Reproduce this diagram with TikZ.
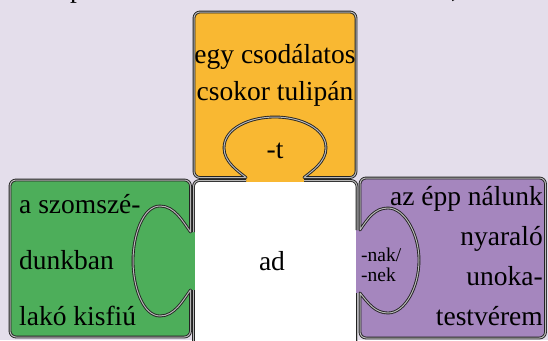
\documentclass[tikz,border=0pt]{standalone}
\usepackage{fontspec}
\setmainfont{Liberation Serif}
\definecolor{bg}{RGB}{228,222,235}
\definecolor{orng}{RGB}{249,184,50}
\definecolor{grn}{RGB}{77,174,90}
\definecolor{prpl}{RGB}{165,134,190}
\definecolor{edge}{RGB}{35,35,35}
\tikzset{
  outl/.style={draw=edge, line width=0.9pt, double=black!28, double distance=1pt, line join=round},
  txt/.style={font=\fontsize{27.5}{30}\selectfont, inner sep=0pt},
  smalltxt/.style={font=\fontsize{19.5}{21}\selectfont, inner sep=0pt}
}
\begin{document}
\begin{tikzpicture}[x=1pt,y=-1pt]
\useasboundingbox (0,0) rectangle (548,340);
\fill[bg] (0,0) rectangle (548,340);
% cut-off line of text above
\node[txt, anchor=base west] (cutp) at (70,-2) {p};
\node[txt, anchor=base west] (cutc) at (451,-2) {,};
% fills
\fill[white, rounded corners=6pt] (193.5,180.5) rectangle (357,360);
\fill[orng, rounded corners=6pt] (194,12) rectangle (356,177.5);
\fill[orng] (246,176) rectangle (304,181.5);
\fill[grn, rounded corners=6pt] (10,180) rectangle (190.5,337);
\fill[grn] (189,232) rectangle (194.5,290);
\fill[prpl, rounded corners=6pt] (360,178) rectangle (545.5,338);
\fill[prpl] (356,230) rectangle (361.5,293);
% white piece outline
\draw[outl] (246,180.5) -- (199.5,180.5) arc[start angle=270,end angle=180,radius=6] -- (193.5,232);
\draw[outl] (193.5,290) -- (193.5,350);
\draw[outl] (304,180.5) -- (351,180.5) arc[start angle=270,end angle=360,radius=6] -- (357,230);
\draw[outl] (357,293) -- (357,350);
% orange piece outline
\draw[outl] (246,177.5) -- (200,177.5) arc[start angle=90,end angle=180,radius=6] -- (194,18)
  arc[start angle=180,end angle=270,radius=6] -- (350,12)
  arc[start angle=270,end angle=360,radius=6] -- (356,171.5)
  arc[start angle=0,end angle=90,radius=6] -- (304,177.5)
  .. controls (312,171) and (326,162) .. (326,148)
  .. controls (326,128) and (300,117) .. (275,117)
  .. controls (250,117) and (224,128) .. (224,148)
  .. controls (224,162) and (238,171) .. (246,177.5) -- cycle;
% green piece outline
\draw[outl] (190.5,290) -- (190.5,331) arc[start angle=0,end angle=90,radius=6] -- (16,337)
  arc[start angle=90,end angle=180,radius=6] -- (10,186)
  arc[start angle=180,end angle=270,radius=6] -- (184.5,180)
  arc[start angle=270,end angle=360,radius=6] -- (190.5,232)
  .. controls (183,222) and (175,206) .. (160,206)
  .. controls (143,206) and (133,235) .. (133,261)
  .. controls (133,287) and (143,316) .. (160,316)
  .. controls (175,316) and (183,300) .. (190.5,290) -- cycle;
% purple piece outline
\draw[outl] (360,230) -- (360,184) arc[start angle=180,end angle=270,radius=6] -- (539.5,178)
  arc[start angle=270,end angle=360,radius=6] -- (545.5,332)
  arc[start angle=0,end angle=90,radius=6] -- (366,338)
  arc[start angle=90,end angle=180,radius=6] -- (360,293)
  .. controls (368,303) and (375,313) .. (388,313)
  .. controls (405,313) and (419,287) .. (419,260)
  .. controls (419,235) and (405,208) .. (388,208)
  .. controls (375,208) and (368,218) .. (360,230) -- cycle;
% texts
\node[txt, anchor=base] (o1) at (275,63) {egy csodálatos};
\node[txt, anchor=base] (o2) at (275,100) {csokor tulipán};
\node[txt, anchor=base] (sufT) at (275,158) {-t};
\node[txt, anchor=base west] (g1) at (19,213) {a szomszé-};
\node[txt, anchor=base west] (g2) at (19,269) {dunkban};
\node[txt, anchor=base west] (g3) at (19,325) {lakó kisfiú};
\node[txt, anchor=base] (ad) at (272,270) {ad};
\node[txt, anchor=base east] (p1) at (543,205) {az épp nálunk};
\node[txt, anchor=base east] (p2) at (543,245) {nyaraló};
\node[txt, anchor=base east] (p3) at (543,285) {unoka-};
\node[txt, anchor=base east] (p4) at (543,325) {testvérem};
\node[smalltxt, anchor=base west] (nak) at (361,261) {-nak/};
\node[smalltxt, anchor=base west] (nek) at (361,281) {-nek};
\end{tikzpicture}
\end{document}
